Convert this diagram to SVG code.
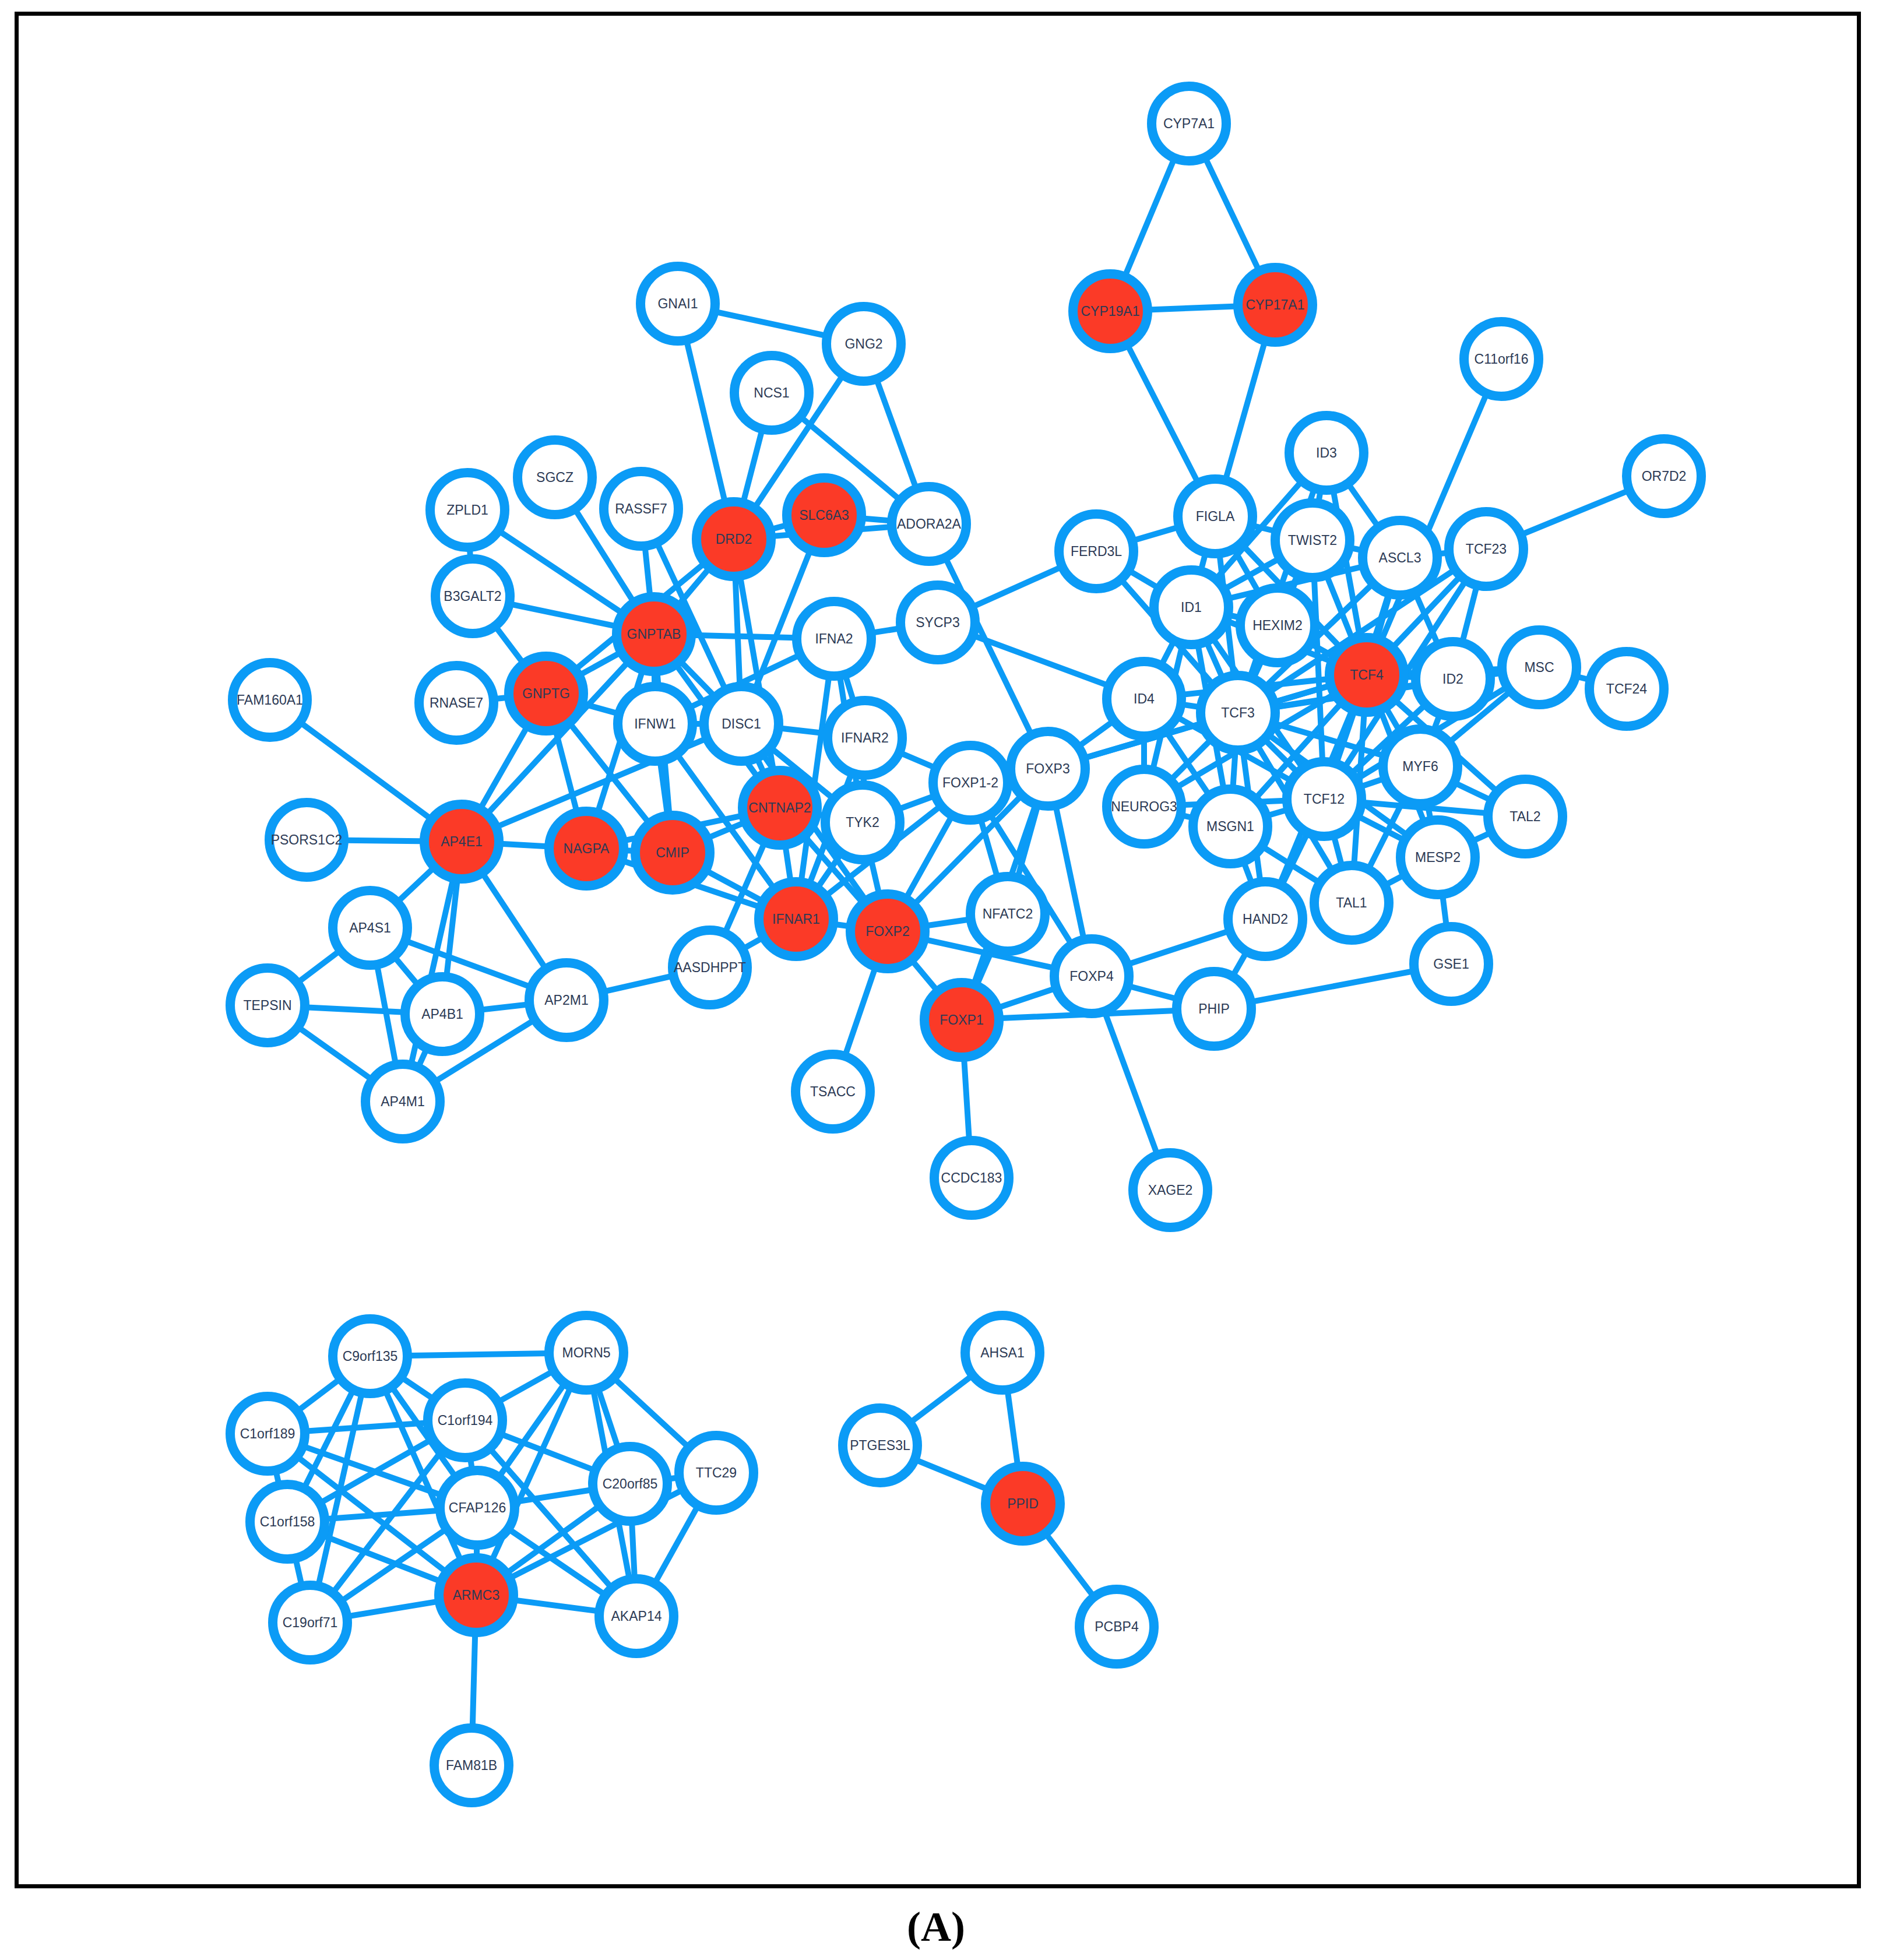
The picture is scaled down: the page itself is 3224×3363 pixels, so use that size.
<svg xmlns="http://www.w3.org/2000/svg" width="3224" height="3363" viewBox="0 0 3224 3363">
<style>
#edges line{stroke:#0b9bf6;stroke-width:10;stroke-linecap:round}
.node circle{fill:#ffffff;stroke:#0b9bf6;stroke-width:16}
.red circle{fill:#fb3a27}
.node text{font-family:"Liberation Sans",Arial,sans-serif;font-size:23px;fill:#2c3a55;text-anchor:middle;dominant-baseline:central}
</style>
<rect x="0" y="0" width="3224" height="3363" fill="#ffffff"/>
<rect x="28.5" y="23.5" width="3161" height="3213" fill="none" stroke="#000000" stroke-width="7"/>
<g id="edges">
<line x1="2040" y1="212" x2="1905" y2="534"/>
<line x1="2040" y1="212" x2="2188" y2="523"/>
<line x1="1905" y1="534" x2="2188" y2="523"/>
<line x1="1905" y1="534" x2="2085" y2="886"/>
<line x1="2188" y1="523" x2="2085" y2="886"/>
<line x1="1163" y1="521" x2="1482" y2="590"/>
<line x1="1163" y1="521" x2="1259" y2="925"/>
<line x1="1324" y1="674" x2="1259" y2="925"/>
<line x1="1324" y1="674" x2="1594" y2="899"/>
<line x1="1482" y1="590" x2="1259" y2="925"/>
<line x1="1482" y1="590" x2="1594" y2="899"/>
<line x1="1259" y1="925" x2="1414" y2="884"/>
<line x1="1259" y1="925" x2="1594" y2="899"/>
<line x1="1414" y1="884" x2="1594" y2="899"/>
<line x1="1594" y1="899" x2="1798" y2="1319"/>
<line x1="1414" y1="884" x2="1272" y2="1242"/>
<line x1="802" y1="875" x2="811" y2="1023"/>
<line x1="802" y1="875" x2="1122" y2="1088"/>
<line x1="952" y1="819" x2="1122" y2="1088"/>
<line x1="1100" y1="873" x2="1122" y2="1088"/>
<line x1="1100" y1="873" x2="1272" y2="1242"/>
<line x1="811" y1="1023" x2="1122" y2="1088"/>
<line x1="811" y1="1023" x2="937" y2="1190"/>
<line x1="783" y1="1206" x2="937" y2="1190"/>
<line x1="1122" y1="1088" x2="937" y2="1190"/>
<line x1="1259" y1="925" x2="937" y2="1190"/>
<line x1="1259" y1="925" x2="1122" y2="1088"/>
<line x1="1122" y1="1088" x2="1431" y2="1096"/>
<line x1="1122" y1="1088" x2="1124" y2="1242"/>
<line x1="1122" y1="1088" x2="1154" y2="1463"/>
<line x1="1122" y1="1088" x2="1006" y2="1456"/>
<line x1="1122" y1="1088" x2="1272" y2="1242"/>
<line x1="1122" y1="1088" x2="1338" y2="1386"/>
<line x1="1122" y1="1088" x2="792" y2="1444"/>
<line x1="1259" y1="925" x2="1272" y2="1242"/>
<line x1="1259" y1="925" x2="1338" y2="1386"/>
<line x1="937" y1="1190" x2="1124" y2="1242"/>
<line x1="937" y1="1190" x2="1006" y2="1456"/>
<line x1="937" y1="1190" x2="1154" y2="1463"/>
<line x1="937" y1="1190" x2="792" y2="1444"/>
<line x1="792" y1="1444" x2="463" y2="1201"/>
<line x1="792" y1="1444" x2="526" y2="1441"/>
<line x1="792" y1="1444" x2="635" y2="1592"/>
<line x1="792" y1="1444" x2="759" y2="1740"/>
<line x1="792" y1="1444" x2="691" y2="1890"/>
<line x1="792" y1="1444" x2="972" y2="1716"/>
<line x1="792" y1="1444" x2="1006" y2="1456"/>
<line x1="792" y1="1444" x2="1272" y2="1242"/>
<line x1="635" y1="1592" x2="459" y2="1725"/>
<line x1="635" y1="1592" x2="759" y2="1740"/>
<line x1="635" y1="1592" x2="691" y2="1890"/>
<line x1="635" y1="1592" x2="972" y2="1716"/>
<line x1="459" y1="1725" x2="759" y2="1740"/>
<line x1="459" y1="1725" x2="691" y2="1890"/>
<line x1="759" y1="1740" x2="972" y2="1716"/>
<line x1="759" y1="1740" x2="691" y2="1890"/>
<line x1="691" y1="1890" x2="972" y2="1716"/>
<line x1="972" y1="1716" x2="1218" y2="1660"/>
<line x1="1124" y1="1242" x2="1272" y2="1242"/>
<line x1="1124" y1="1242" x2="1154" y2="1463"/>
<line x1="1124" y1="1242" x2="1366" y2="1577"/>
<line x1="1431" y1="1096" x2="1124" y2="1242"/>
<line x1="1431" y1="1096" x2="1609" y2="1068"/>
<line x1="1431" y1="1096" x2="1484" y2="1266"/>
<line x1="1431" y1="1096" x2="1480" y2="1411"/>
<line x1="1431" y1="1096" x2="1366" y2="1577"/>
<line x1="1272" y1="1242" x2="1484" y2="1266"/>
<line x1="1272" y1="1242" x2="1480" y2="1411"/>
<line x1="1272" y1="1242" x2="1338" y2="1386"/>
<line x1="1272" y1="1242" x2="1523" y2="1598"/>
<line x1="1006" y1="1456" x2="1154" y2="1463"/>
<line x1="1154" y1="1463" x2="1338" y2="1386"/>
<line x1="1006" y1="1456" x2="1338" y2="1386"/>
<line x1="1154" y1="1463" x2="1366" y2="1577"/>
<line x1="1006" y1="1456" x2="1366" y2="1577"/>
<line x1="1338" y1="1386" x2="1366" y2="1577"/>
<line x1="1338" y1="1386" x2="1523" y2="1598"/>
<line x1="1338" y1="1386" x2="1480" y2="1411"/>
<line x1="1338" y1="1386" x2="1218" y2="1660"/>
<line x1="1484" y1="1266" x2="1480" y2="1411"/>
<line x1="1484" y1="1266" x2="1665" y2="1343"/>
<line x1="1480" y1="1411" x2="1665" y2="1343"/>
<line x1="1480" y1="1411" x2="1523" y2="1598"/>
<line x1="1480" y1="1411" x2="1366" y2="1577"/>
<line x1="1366" y1="1577" x2="1484" y2="1266"/>
<line x1="1366" y1="1577" x2="1523" y2="1598"/>
<line x1="1366" y1="1577" x2="1218" y2="1660"/>
<line x1="1366" y1="1577" x2="1665" y2="1343"/>
<line x1="1523" y1="1598" x2="1665" y2="1343"/>
<line x1="1523" y1="1598" x2="1798" y2="1319"/>
<line x1="1523" y1="1598" x2="1729" y2="1568"/>
<line x1="1523" y1="1598" x2="1873" y2="1675"/>
<line x1="1523" y1="1598" x2="1650" y2="1750"/>
<line x1="1523" y1="1598" x2="1429" y2="1873"/>
<line x1="1665" y1="1343" x2="1798" y2="1319"/>
<line x1="1665" y1="1343" x2="1729" y2="1568"/>
<line x1="1665" y1="1343" x2="1873" y2="1675"/>
<line x1="1798" y1="1319" x2="1729" y2="1568"/>
<line x1="1798" y1="1319" x2="1650" y2="1750"/>
<line x1="1798" y1="1319" x2="1873" y2="1675"/>
<line x1="1798" y1="1319" x2="1963" y2="1199"/>
<line x1="1798" y1="1319" x2="2124" y2="1223"/>
<line x1="1798" y1="1319" x2="2345" y2="1158"/>
<line x1="1729" y1="1568" x2="1650" y2="1750"/>
<line x1="1650" y1="1750" x2="1873" y2="1675"/>
<line x1="1650" y1="1750" x2="2083" y2="1731"/>
<line x1="1650" y1="1750" x2="1667" y2="2021"/>
<line x1="1873" y1="1675" x2="2171" y2="1577"/>
<line x1="1873" y1="1675" x2="2083" y2="1731"/>
<line x1="1873" y1="1675" x2="2008" y2="2042"/>
<line x1="1609" y1="1068" x2="1881" y2="946"/>
<line x1="1609" y1="1068" x2="1963" y2="1199"/>
<line x1="2171" y1="1577" x2="2083" y2="1731"/>
<line x1="2171" y1="1577" x2="2111" y2="1418"/>
<line x1="2171" y1="1577" x2="2272" y2="1371"/>
<line x1="2171" y1="1577" x2="2124" y2="1223"/>
<line x1="2171" y1="1577" x2="2345" y2="1158"/>
<line x1="2083" y1="1731" x2="2490" y2="1654"/>
<line x1="2490" y1="1654" x2="2467" y2="1471"/>
<line x1="2576" y1="616" x2="2345" y2="1158"/>
<line x1="2855" y1="817" x2="2550" y2="942"/>
<line x1="1881" y1="946" x2="2085" y2="886"/>
<line x1="1881" y1="946" x2="2044" y2="1042"/>
<line x1="1881" y1="946" x2="2124" y2="1223"/>
<line x1="2085" y1="886" x2="2044" y2="1042"/>
<line x1="2085" y1="886" x2="2252" y2="927"/>
<line x1="2085" y1="886" x2="2192" y2="1073"/>
<line x1="2085" y1="886" x2="2124" y2="1223"/>
<line x1="2085" y1="886" x2="2345" y2="1158"/>
<line x1="2276" y1="777" x2="2252" y2="927"/>
<line x1="2276" y1="777" x2="2402" y2="957"/>
<line x1="2276" y1="777" x2="2044" y2="1042"/>
<line x1="2276" y1="777" x2="2345" y2="1158"/>
<line x1="2276" y1="777" x2="2124" y2="1223"/>
<line x1="2252" y1="927" x2="2402" y2="957"/>
<line x1="2252" y1="927" x2="2044" y2="1042"/>
<line x1="2252" y1="927" x2="2192" y2="1073"/>
<line x1="2252" y1="927" x2="2345" y2="1158"/>
<line x1="2252" y1="927" x2="2124" y2="1223"/>
<line x1="2252" y1="927" x2="2272" y2="1371"/>
<line x1="2402" y1="957" x2="2550" y2="942"/>
<line x1="2402" y1="957" x2="2044" y2="1042"/>
<line x1="2402" y1="957" x2="2345" y2="1158"/>
<line x1="2402" y1="957" x2="2124" y2="1223"/>
<line x1="2402" y1="957" x2="2272" y2="1371"/>
<line x1="2402" y1="957" x2="2493" y2="1165"/>
<line x1="2550" y1="942" x2="2345" y2="1158"/>
<line x1="2550" y1="942" x2="2493" y2="1165"/>
<line x1="2550" y1="942" x2="2124" y2="1223"/>
<line x1="2550" y1="942" x2="2272" y2="1371"/>
<line x1="2044" y1="1042" x2="2192" y2="1073"/>
<line x1="2044" y1="1042" x2="1963" y2="1199"/>
<line x1="2044" y1="1042" x2="2124" y2="1223"/>
<line x1="2044" y1="1042" x2="2345" y2="1158"/>
<line x1="2044" y1="1042" x2="2272" y2="1371"/>
<line x1="2044" y1="1042" x2="2111" y2="1418"/>
<line x1="2044" y1="1042" x2="1963" y2="1384"/>
<line x1="2192" y1="1073" x2="2345" y2="1158"/>
<line x1="2192" y1="1073" x2="2124" y2="1223"/>
<line x1="2345" y1="1158" x2="2493" y2="1165"/>
<line x1="2345" y1="1158" x2="2641" y2="1145"/>
<line x1="2345" y1="1158" x2="2617" y2="1401"/>
<line x1="2345" y1="1158" x2="2467" y2="1471"/>
<line x1="2345" y1="1158" x2="2319" y2="1549"/>
<line x1="2345" y1="1158" x2="2111" y2="1418"/>
<line x1="2345" y1="1158" x2="1963" y2="1199"/>
<line x1="2345" y1="1158" x2="1963" y2="1384"/>
<line x1="2345" y1="1158" x2="2124" y2="1223"/>
<line x1="2345" y1="1158" x2="2272" y2="1371"/>
<line x1="2345" y1="1158" x2="2437" y2="1315"/>
<line x1="2493" y1="1165" x2="2641" y2="1145"/>
<line x1="2493" y1="1165" x2="2124" y2="1223"/>
<line x1="2493" y1="1165" x2="2272" y2="1371"/>
<line x1="2493" y1="1165" x2="2437" y2="1315"/>
<line x1="2641" y1="1145" x2="2791" y2="1182"/>
<line x1="2641" y1="1145" x2="2124" y2="1223"/>
<line x1="2641" y1="1145" x2="2272" y2="1371"/>
<line x1="2641" y1="1145" x2="2437" y2="1315"/>
<line x1="2124" y1="1223" x2="2272" y2="1371"/>
<line x1="2124" y1="1223" x2="2437" y2="1315"/>
<line x1="2124" y1="1223" x2="2467" y2="1471"/>
<line x1="2124" y1="1223" x2="2319" y2="1549"/>
<line x1="2124" y1="1223" x2="1963" y2="1199"/>
<line x1="2124" y1="1223" x2="2111" y2="1418"/>
<line x1="2124" y1="1223" x2="1963" y2="1384"/>
<line x1="1963" y1="1199" x2="1963" y2="1384"/>
<line x1="1963" y1="1199" x2="2111" y2="1418"/>
<line x1="1963" y1="1199" x2="2272" y2="1371"/>
<line x1="1963" y1="1384" x2="2272" y2="1371"/>
<line x1="1963" y1="1384" x2="2111" y2="1418"/>
<line x1="2111" y1="1418" x2="2272" y2="1371"/>
<line x1="2111" y1="1418" x2="2319" y2="1549"/>
<line x1="2272" y1="1371" x2="2437" y2="1315"/>
<line x1="2272" y1="1371" x2="2617" y2="1401"/>
<line x1="2272" y1="1371" x2="2467" y2="1471"/>
<line x1="2272" y1="1371" x2="2319" y2="1549"/>
<line x1="2437" y1="1315" x2="2617" y2="1401"/>
<line x1="2437" y1="1315" x2="2467" y2="1471"/>
<line x1="2437" y1="1315" x2="2319" y2="1549"/>
<line x1="2617" y1="1401" x2="2467" y2="1471"/>
<line x1="2467" y1="1471" x2="2319" y2="1549"/>
<line x1="635" y1="2327" x2="1006" y2="2321"/>
<line x1="635" y1="2327" x2="459" y2="2460"/>
<line x1="635" y1="2327" x2="798" y2="2437"/>
<line x1="635" y1="2327" x2="493" y2="2611"/>
<line x1="635" y1="2327" x2="532" y2="2784"/>
<line x1="635" y1="2327" x2="819" y2="2587"/>
<line x1="635" y1="2327" x2="817" y2="2737"/>
<line x1="1006" y1="2321" x2="798" y2="2437"/>
<line x1="1006" y1="2321" x2="819" y2="2587"/>
<line x1="1006" y1="2321" x2="817" y2="2737"/>
<line x1="1006" y1="2321" x2="1081" y2="2546"/>
<line x1="1006" y1="2321" x2="1229" y2="2527"/>
<line x1="1006" y1="2321" x2="1092" y2="2773"/>
<line x1="459" y1="2460" x2="798" y2="2437"/>
<line x1="459" y1="2460" x2="493" y2="2611"/>
<line x1="459" y1="2460" x2="819" y2="2587"/>
<line x1="459" y1="2460" x2="817" y2="2737"/>
<line x1="798" y1="2437" x2="493" y2="2611"/>
<line x1="798" y1="2437" x2="532" y2="2784"/>
<line x1="798" y1="2437" x2="819" y2="2587"/>
<line x1="798" y1="2437" x2="1081" y2="2546"/>
<line x1="798" y1="2437" x2="1092" y2="2773"/>
<line x1="493" y1="2611" x2="819" y2="2587"/>
<line x1="493" y1="2611" x2="817" y2="2737"/>
<line x1="493" y1="2611" x2="532" y2="2784"/>
<line x1="819" y1="2587" x2="1081" y2="2546"/>
<line x1="819" y1="2587" x2="817" y2="2737"/>
<line x1="819" y1="2587" x2="1092" y2="2773"/>
<line x1="819" y1="2587" x2="532" y2="2784"/>
<line x1="1081" y1="2546" x2="817" y2="2737"/>
<line x1="1081" y1="2546" x2="1092" y2="2773"/>
<line x1="1081" y1="2546" x2="1229" y2="2527"/>
<line x1="1229" y1="2527" x2="1092" y2="2773"/>
<line x1="1229" y1="2527" x2="817" y2="2737"/>
<line x1="817" y1="2737" x2="532" y2="2784"/>
<line x1="817" y1="2737" x2="1092" y2="2773"/>
<line x1="817" y1="2737" x2="809" y2="3029"/>
<line x1="1720" y1="2321" x2="1510" y2="2480"/>
<line x1="1720" y1="2321" x2="1755" y2="2580"/>
<line x1="1510" y1="2480" x2="1755" y2="2580"/>
<line x1="1755" y1="2580" x2="1916" y2="2791"/>
</g>
<g id="n-CYP7A1" class="node"><circle cx="2040" cy="212" r="64"/><text x="2040" y="212">CYP7A1</text></g>
<g id="n-CYP19A1" class="node red"><circle cx="1905" cy="534" r="64"/><text x="1905" y="534">CYP19A1</text></g>
<g id="n-CYP17A1" class="node red"><circle cx="2188" cy="523" r="64"/><text x="2188" y="523">CYP17A1</text></g>
<g id="n-C11orf16" class="node"><circle cx="2576" cy="616" r="64"/><text x="2576" y="616">C11orf16</text></g>
<g id="n-OR7D2" class="node"><circle cx="2855" cy="817" r="64"/><text x="2855" y="817">OR7D2</text></g>
<g id="n-ID3" class="node"><circle cx="2276" cy="777" r="64"/><text x="2276" y="777">ID3</text></g>
<g id="n-FIGLA" class="node"><circle cx="2085" cy="886" r="64"/><text x="2085" y="886">FIGLA</text></g>
<g id="n-TWIST2" class="node"><circle cx="2252" cy="927" r="64"/><text x="2252" y="927">TWIST2</text></g>
<g id="n-ASCL3" class="node"><circle cx="2402" cy="957" r="64"/><text x="2402" y="957">ASCL3</text></g>
<g id="n-TCF23" class="node"><circle cx="2550" cy="942" r="64"/><text x="2550" y="942">TCF23</text></g>
<g id="n-FERD3L" class="node"><circle cx="1881" cy="946" r="64"/><text x="1881" y="946">FERD3L</text></g>
<g id="n-ID1" class="node"><circle cx="2044" cy="1042" r="64"/><text x="2044" y="1042">ID1</text></g>
<g id="n-HEXIM2" class="node"><circle cx="2192" cy="1073" r="64"/><text x="2192" y="1073">HEXIM2</text></g>
<g id="n-TCF4" class="node red"><circle cx="2345" cy="1158" r="64"/><text x="2345" y="1158">TCF4</text></g>
<g id="n-ID2" class="node"><circle cx="2493" cy="1165" r="64"/><text x="2493" y="1165">ID2</text></g>
<g id="n-MSC" class="node"><circle cx="2641" cy="1145" r="64"/><text x="2641" y="1145">MSC</text></g>
<g id="n-TCF24" class="node"><circle cx="2791" cy="1182" r="64"/><text x="2791" y="1182">TCF24</text></g>
<g id="n-ID4" class="node"><circle cx="1963" cy="1199" r="64"/><text x="1963" y="1199">ID4</text></g>
<g id="n-TCF3" class="node"><circle cx="2124" cy="1223" r="64"/><text x="2124" y="1223">TCF3</text></g>
<g id="n-MYF6" class="node"><circle cx="2437" cy="1315" r="64"/><text x="2437" y="1315">MYF6</text></g>
<g id="n-NEUROG3" class="node"><circle cx="1963" cy="1384" r="64"/><text x="1963" y="1384">NEUROG3</text></g>
<g id="n-MSGN1" class="node"><circle cx="2111" cy="1418" r="64"/><text x="2111" y="1418">MSGN1</text></g>
<g id="n-TCF12" class="node"><circle cx="2272" cy="1371" r="64"/><text x="2272" y="1371">TCF12</text></g>
<g id="n-TAL2" class="node"><circle cx="2617" cy="1401" r="64"/><text x="2617" y="1401">TAL2</text></g>
<g id="n-MESP2" class="node"><circle cx="2467" cy="1471" r="64"/><text x="2467" y="1471">MESP2</text></g>
<g id="n-TAL1" class="node"><circle cx="2319" cy="1549" r="64"/><text x="2319" y="1549">TAL1</text></g>
<g id="n-HAND2" class="node"><circle cx="2171" cy="1577" r="64"/><text x="2171" y="1577">HAND2</text></g>
<g id="n-GSE1" class="node"><circle cx="2490" cy="1654" r="64"/><text x="2490" y="1654">GSE1</text></g>
<g id="n-PHIP" class="node"><circle cx="2083" cy="1731" r="64"/><text x="2083" y="1731">PHIP</text></g>
<g id="n-FOXP4" class="node"><circle cx="1873" cy="1675" r="64"/><text x="1873" y="1675">FOXP4</text></g>
<g id="n-XAGE2" class="node"><circle cx="2008" cy="2042" r="64"/><text x="2008" y="2042">XAGE2</text></g>
<g id="n-FOXP3" class="node"><circle cx="1798" cy="1319" r="64"/><text x="1798" y="1319">FOXP3</text></g>
<g id="n-FOXP1-2" class="node"><circle cx="1665" cy="1343" r="64"/><text x="1665" y="1343">FOXP1-2</text></g>
<g id="n-NFATC2" class="node"><circle cx="1729" cy="1568" r="64"/><text x="1729" y="1568">NFATC2</text></g>
<g id="n-FOXP2" class="node red"><circle cx="1523" cy="1598" r="64"/><text x="1523" y="1598">FOXP2</text></g>
<g id="n-FOXP1" class="node red"><circle cx="1650" cy="1750" r="64"/><text x="1650" y="1750">FOXP1</text></g>
<g id="n-CCDC183" class="node"><circle cx="1667" cy="2021" r="64"/><text x="1667" y="2021">CCDC183</text></g>
<g id="n-TSACC" class="node"><circle cx="1429" cy="1873" r="64"/><text x="1429" y="1873">TSACC</text></g>
<g id="n-IFNAR1" class="node red"><circle cx="1366" cy="1577" r="64"/><text x="1366" y="1577">IFNAR1</text></g>
<g id="n-TYK2" class="node"><circle cx="1480" cy="1411" r="64"/><text x="1480" y="1411">TYK2</text></g>
<g id="n-CNTNAP2" class="node red"><circle cx="1338" cy="1386" r="64"/><text x="1338" y="1386">CNTNAP2</text></g>
<g id="n-IFNAR2" class="node"><circle cx="1484" cy="1266" r="64"/><text x="1484" y="1266">IFNAR2</text></g>
<g id="n-IFNA2" class="node"><circle cx="1431" cy="1096" r="64"/><text x="1431" y="1096">IFNA2</text></g>
<g id="n-SYCP3" class="node"><circle cx="1609" cy="1068" r="64"/><text x="1609" y="1068">SYCP3</text></g>
<g id="n-DISC1" class="node"><circle cx="1272" cy="1242" r="64"/><text x="1272" y="1242">DISC1</text></g>
<g id="n-IFNW1" class="node"><circle cx="1124" cy="1242" r="64"/><text x="1124" y="1242">IFNW1</text></g>
<g id="n-CMIP" class="node red"><circle cx="1154" cy="1463" r="64"/><text x="1154" y="1463">CMIP</text></g>
<g id="n-NAGPA" class="node red"><circle cx="1006" cy="1456" r="64"/><text x="1006" y="1456">NAGPA</text></g>
<g id="n-AASDHPPT" class="node"><circle cx="1218" cy="1660" r="64"/><text x="1218" y="1660">AASDHPPT</text></g>
<g id="n-GNPTAB" class="node red"><circle cx="1122" cy="1088" r="64"/><text x="1122" y="1088">GNPTAB</text></g>
<g id="n-GNPTG" class="node red"><circle cx="937" cy="1190" r="64"/><text x="937" y="1190">GNPTG</text></g>
<g id="n-AP4E1" class="node red"><circle cx="792" cy="1444" r="64"/><text x="792" y="1444">AP4E1</text></g>
<g id="n-DRD2" class="node red"><circle cx="1259" cy="925" r="64"/><text x="1259" y="925">DRD2</text></g>
<g id="n-SLC6A3" class="node red"><circle cx="1414" cy="884" r="64"/><text x="1414" y="884">SLC6A3</text></g>
<g id="n-ADORA2A" class="node"><circle cx="1594" cy="899" r="64"/><text x="1594" y="899">ADORA2A</text></g>
<g id="n-NCS1" class="node"><circle cx="1324" cy="674" r="64"/><text x="1324" y="674">NCS1</text></g>
<g id="n-GNG2" class="node"><circle cx="1482" cy="590" r="64"/><text x="1482" y="590">GNG2</text></g>
<g id="n-GNAI1" class="node"><circle cx="1163" cy="521" r="64"/><text x="1163" y="521">GNAI1</text></g>
<g id="n-RASSF7" class="node"><circle cx="1100" cy="873" r="64"/><text x="1100" y="873">RASSF7</text></g>
<g id="n-SGCZ" class="node"><circle cx="952" cy="819" r="64"/><text x="952" y="819">SGCZ</text></g>
<g id="n-ZPLD1" class="node"><circle cx="802" cy="875" r="64"/><text x="802" y="875">ZPLD1</text></g>
<g id="n-B3GALT2" class="node"><circle cx="811" cy="1023" r="64"/><text x="811" y="1023">B3GALT2</text></g>
<g id="n-RNASE7" class="node"><circle cx="783" cy="1206" r="64"/><text x="783" y="1206">RNASE7</text></g>
<g id="n-FAM160A1" class="node"><circle cx="463" cy="1201" r="64"/><text x="463" y="1201">FAM160A1</text></g>
<g id="n-PSORS1C2" class="node"><circle cx="526" cy="1441" r="64"/><text x="526" y="1441">PSORS1C2</text></g>
<g id="n-AP4S1" class="node"><circle cx="635" cy="1592" r="64"/><text x="635" y="1592">AP4S1</text></g>
<g id="n-TEPSIN" class="node"><circle cx="459" cy="1725" r="64"/><text x="459" y="1725">TEPSIN</text></g>
<g id="n-AP4B1" class="node"><circle cx="759" cy="1740" r="64"/><text x="759" y="1740">AP4B1</text></g>
<g id="n-AP2M1" class="node"><circle cx="972" cy="1716" r="64"/><text x="972" y="1716">AP2M1</text></g>
<g id="n-AP4M1" class="node"><circle cx="691" cy="1890" r="64"/><text x="691" y="1890">AP4M1</text></g>
<g id="n-C9orf135" class="node"><circle cx="635" cy="2327" r="64"/><text x="635" y="2327">C9orf135</text></g>
<g id="n-MORN5" class="node"><circle cx="1006" cy="2321" r="64"/><text x="1006" y="2321">MORN5</text></g>
<g id="n-C1orf189" class="node"><circle cx="459" cy="2460" r="64"/><text x="459" y="2460">C1orf189</text></g>
<g id="n-C1orf194" class="node"><circle cx="798" cy="2437" r="64"/><text x="798" y="2437">C1orf194</text></g>
<g id="n-C20orf85" class="node"><circle cx="1081" cy="2546" r="64"/><text x="1081" y="2546">C20orf85</text></g>
<g id="n-TTC29" class="node"><circle cx="1229" cy="2527" r="64"/><text x="1229" y="2527">TTC29</text></g>
<g id="n-C1orf158" class="node"><circle cx="493" cy="2611" r="64"/><text x="493" y="2611">C1orf158</text></g>
<g id="n-CFAP126" class="node"><circle cx="819" cy="2587" r="64"/><text x="819" y="2587">CFAP126</text></g>
<g id="n-ARMC3" class="node red"><circle cx="817" cy="2737" r="64"/><text x="817" y="2737">ARMC3</text></g>
<g id="n-C19orf71" class="node"><circle cx="532" cy="2784" r="64"/><text x="532" y="2784">C19orf71</text></g>
<g id="n-AKAP14" class="node"><circle cx="1092" cy="2773" r="64"/><text x="1092" y="2773">AKAP14</text></g>
<g id="n-FAM81B" class="node"><circle cx="809" cy="3029" r="64"/><text x="809" y="3029">FAM81B</text></g>
<g id="n-AHSA1" class="node"><circle cx="1720" cy="2321" r="64"/><text x="1720" y="2321">AHSA1</text></g>
<g id="n-PTGES3L" class="node"><circle cx="1510" cy="2480" r="64"/><text x="1510" y="2480">PTGES3L</text></g>
<g id="n-PPID" class="node red"><circle cx="1755" cy="2580" r="64"/><text x="1755" y="2580">PPID</text></g>
<g id="n-PCBP4" class="node"><circle cx="1916" cy="2791" r="64"/><text x="1916" y="2791">PCBP4</text></g>
<text x="1606" y="3330" font-family="'Liberation Serif','Times New Roman',serif" font-size="72" font-weight="bold" text-anchor="middle" fill="#000000">(A)</text>
</svg>
